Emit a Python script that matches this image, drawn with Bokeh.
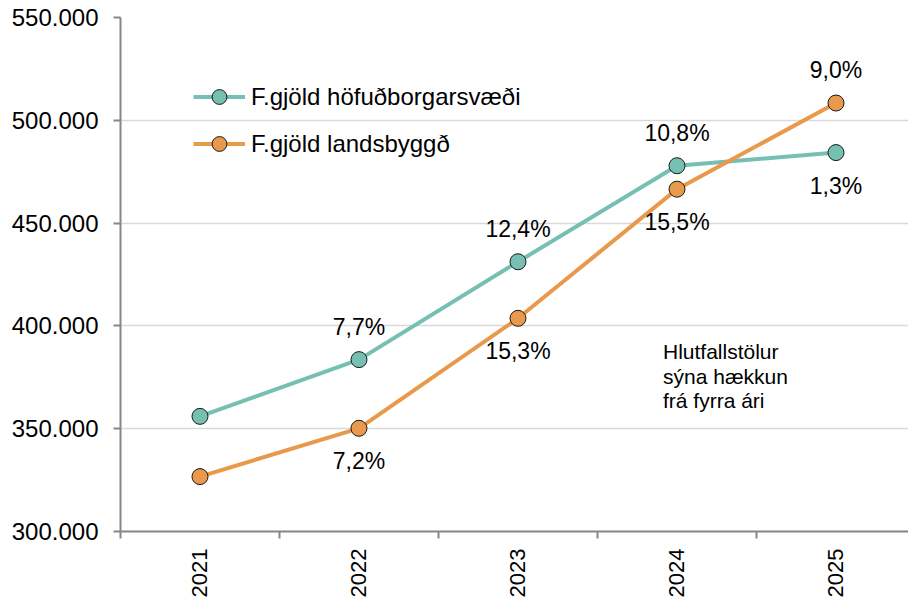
from bokeh.plotting import figure
from bokeh.models import (Range1d, FixedTicker, ColumnDataSource, LabelSet, Label,
                          Legend, LegendItem)
from bokeh.core.properties import value
from bokeh.embed import file_html
from bokeh.resources import INLINE
from math import pi

# ---- data ----
years = ["2021", "2022", "2023", "2024", "2025"]
hofud = [356000, 383600, 431200, 477900, 484300]
lands = [326700, 350200, 403700, 466500, 508400]
hofud_pct = ["", "7,7%", "12,4%", "10,8%", "1,3%"]
lands_pct = ["", "7,2%", "15,3%", "15,5%", "9,0%"]
hofud_side = ["", "above", "above", "above", "below"]
lands_side = ["", "below", "below", "below", "above"]
y_ticks = [300000, 350000, 400000, 450000, 500000, 550000]
series_names = ["F.gjöld höfuðborgarsvæði", "F.gjöld landsbyggð"]
note_text = "Hlutfallstölur\nsýna hækkun\nfrá fyrra ári"

# ---- style ----
TEAL = "#75c0b3"
ORANGE = "#e9994b"
AXIS = "#868686"
GRID = "#d9d9d9"
FONT = "Liberation Sans"

xs = list(range(1, len(years) + 1))

p = figure(width=908, height=600, x_range=Range1d(0.5, 5.456),
           y_range=Range1d(300000, 550000),
           output_backend="svg", toolbar_location=None,
           min_border_left=120, min_border_right=0, min_border_top=17,
           min_border_bottom=69)
p.outline_line_color = None
p.background_fill_color = "white"
p.border_fill_color = "white"

# axes
p.xaxis.ticker = FixedTicker(ticks=xs, minor_ticks=[x - 0.5 for x in xs] + [xs[-1] + 0.5])
p.xaxis.major_label_overrides = {x: y for x, y in zip(xs, years)}
p.xaxis.major_label_orientation = pi / 2
p.xaxis.major_tick_out = 0
p.xaxis.major_tick_in = 0
p.xaxis.major_tick_line_color = None
p.xaxis.minor_tick_out = 7
p.xaxis.minor_tick_in = 0
p.xaxis.minor_tick_line_color = AXIS
p.xaxis.minor_tick_line_width = 2
p.xaxis.major_label_standoff = 10

p.yaxis.ticker = FixedTicker(ticks=y_ticks, minor_ticks=[])
p.yaxis.major_label_overrides = {v: f"{v:,}".replace(",", ".") for v in y_ticks}
p.yaxis.major_tick_out = 7
p.yaxis.major_tick_in = 0
p.yaxis.major_tick_line_color = AXIS
p.yaxis.major_tick_line_width = 2
p.yaxis.major_label_standoff = 15

for ax in (p.xaxis, p.yaxis):
    ax.axis_line_color = AXIS
    ax.axis_line_width = 2
    ax.major_label_text_font = FONT
    ax.major_label_text_color = "#000000"
p.yaxis.major_label_text_font_size = "24px"
p.xaxis.major_label_text_font_size = "22px"

p.xgrid.grid_line_color = None
p.ygrid.grid_line_color = GRID
p.ygrid.grid_line_width = 1.5

# series
l1 = p.line(xs, hofud, line_color=TEAL, line_width=4)
c1 = p.scatter(xs, hofud, size=16, fill_color=TEAL, line_color="#1a1a1a", line_width=1)
l2 = p.line(xs, lands, line_color=ORANGE, line_width=4)
c2 = p.scatter(xs, lands, size=16, fill_color=ORANGE, line_color="#1a1a1a", line_width=1)

# data labels
OFF = {"above": 33, "below": -33, "": 0}
for vals, pcts, sides in ((hofud, hofud_pct, hofud_side), (lands, lands_pct, lands_side)):
    idx = [i for i, t in enumerate(pcts) if t]
    src = ColumnDataSource(dict(
        x=[xs[i] for i in idx], y=[vals[i] for i in idx],
        t=[pcts[i] for i in idx], off=[OFF[sides[i]] for i in idx]))
    p.add_layout(LabelSet(x="x", y="y", text="t", y_offset="off", source=src,
                          text_align="center", text_baseline="middle",
                          text_font=value(FONT), text_font_size=value("23px"),
                          text_color="#000000"))

# note
p.add_layout(Label(x=3.912, y=392900, text=note_text, text_font=FONT,
                   text_font_size="21px", text_align="left", text_baseline="top",
                   text_line_height=1.05, text_color="#000000"))

# legend
legend = Legend(items=[LegendItem(label=series_names[0], renderers=[l1, c1]),
                       LegendItem(label=series_names[1], renderers=[l2, c2])],
                location=(73, 369), orientation="vertical",
                glyph_width=52, glyph_height=37, label_height=37, spacing=10,
                label_standoff=6, padding=0, margin=0,
                label_text_font=FONT, label_text_font_size="24px",
                label_text_color="#000000",
                background_fill_alpha=0, border_line_color=None)
p.add_layout(legend)

open("out.html", "w").write(file_html(p, INLINE))
